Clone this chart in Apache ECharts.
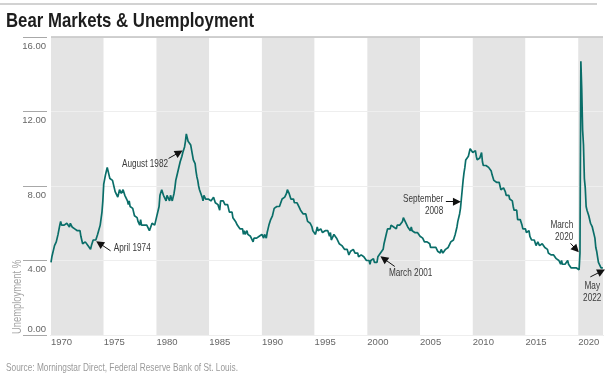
<!DOCTYPE html>
<html>
<head>
<meta charset="utf-8">
<script src="https://cdn.jsdelivr.net/npm/echarts@6/dist/echarts.min.js"></script>
<style>
html, body { margin: 0; padding: 0; background: #fff; }
#chart { width: 610px; height: 376px; }
</style>
</head>
<body>
<div id="chart"></div>
<script>
// monthly unemployment rate, Jan 1970 - May 2022
var firstYear = 1970;
var rate1970s = [
  3.9,4.2,4.4,4.6,4.8,4.9,5.0,5.1,5.4,5.5,5.9,6.1,
  5.9,5.9,6.0,5.9,5.9,5.9,6.0,6.1,6.0,5.8,6.0,6.0,
  5.8,5.7,5.8,5.7,5.7,5.7,5.6,5.6,5.5,5.6,5.3,5.2,
  4.9,5.0,4.9,5.0,4.9,4.9,4.8,4.8,4.8,4.6,4.8,4.9,
  5.1,5.2,5.1,5.1,5.1,5.4,5.5,5.5,5.9,6.0,6.6,7.2,
  8.1,8.1,8.6,8.8,9.0,8.8,8.6,8.4,8.4,8.4,8.3,8.2,
  7.9,7.7,7.6,7.7,7.4,7.6,7.8,7.8,7.6,7.7,7.8,7.8,
  7.5,7.6,7.4,7.2,7.0,7.2,6.9,7.0,6.8,6.8,6.8,6.4,
  6.4,6.3,6.3,6.1,6.0,5.9,6.2,5.9,6.0,5.8,5.9,6.0,
  5.9,5.9,5.8,5.8,5.6,5.7,5.7,6.0,5.9,6.0,5.9,6.0
];
var rate1980s = [
  6.3,6.3,6.3,6.9,7.5,7.6,7.8,7.7,7.5,7.5,7.5,7.2,
  7.5,7.4,7.4,7.2,7.5,7.5,7.2,7.4,7.6,7.9,8.3,8.5,
  8.6,8.9,9.0,9.3,9.4,9.6,9.8,9.8,10.1,10.4,10.8,10.8,
  10.4,10.4,10.3,10.2,10.1,10.1,9.4,9.5,9.2,8.8,8.5,8.3,
  8.0,7.8,7.8,7.7,7.4,7.2,7.5,7.5,7.3,7.4,7.2,7.3,
  7.3,7.2,7.2,7.3,7.2,7.4,7.4,7.1,7.1,7.1,7.0,7.0,
  6.7,7.2,7.2,7.1,7.2,7.2,7.0,6.9,7.0,7.0,6.9,6.6,
  6.6,6.6,6.6,6.3,6.3,6.2,6.1,6.0,5.9,6.0,5.8,5.7,
  5.7,5.7,5.7,5.4,5.6,5.4,5.4,5.6,5.4,5.4,5.3,5.3,
  5.4,5.2,5.0,5.2,5.2,5.3,5.2,5.2,5.3,5.3,5.4,5.4
];
var rate1990s = [
  5.4,5.3,5.2,5.4,5.4,5.2,5.5,5.7,5.9,5.9,6.2,6.3,
  6.4,6.6,6.8,6.7,6.9,6.9,6.8,6.9,6.9,7.0,7.0,7.3,
  7.3,7.4,7.4,7.4,7.6,7.8,7.7,7.6,7.6,7.3,7.4,7.4,
  7.3,7.1,7.0,7.1,7.1,7.0,6.9,6.8,6.7,6.8,6.6,6.5,
  6.6,6.6,6.5,6.4,6.1,6.1,6.1,6.0,5.9,5.8,5.6,5.5,
  5.6,5.4,5.4,5.8,5.6,5.6,5.7,5.7,5.6,5.5,5.6,5.6,
  5.6,5.5,5.5,5.6,5.6,5.3,5.5,5.1,5.2,5.2,5.4,5.4,
  5.3,5.2,5.2,5.1,4.9,5.0,4.9,4.8,4.9,4.7,4.6,4.7,
  4.6,4.6,4.7,4.3,4.4,4.5,4.5,4.5,4.6,4.5,4.4,4.4,
  4.3,4.4,4.2,4.3,4.2,4.3,4.3,4.2,4.2,4.1,4.1,4.0
];
var rate2000s = [
  4.0,4.1,4.0,3.8,4.0,4.0,4.0,4.1,3.9,3.9,3.9,3.9,
  4.2,4.2,4.3,4.4,4.3,4.5,4.6,4.9,5.0,5.3,5.5,5.7,
  5.7,5.7,5.7,5.9,5.8,5.8,5.8,5.7,5.7,5.7,5.9,6.0,
  5.8,5.9,5.9,6.0,6.1,6.3,6.2,6.1,6.1,6.0,5.8,5.7,
  5.7,5.6,5.8,5.6,5.6,5.6,5.5,5.4,5.4,5.5,5.4,5.4,
  5.3,5.4,5.2,5.2,5.1,5.0,5.0,4.9,5.0,5.0,5.0,4.9,
  4.7,4.8,4.7,4.7,4.6,4.6,4.7,4.7,4.5,4.4,4.5,4.4,
  4.6,4.5,4.4,4.5,4.4,4.6,4.7,4.6,4.7,4.7,4.7,5.0,
  5.0,4.9,5.1,5.0,5.4,5.6,5.8,6.1,6.1,6.5,6.8,7.3,
  7.8,8.3,8.7,9.0,9.4,9.5,9.5,9.6,9.8,10.0,9.9,9.9
];
var rate2010s = [
  9.8,9.8,9.9,9.9,9.6,9.4,9.4,9.5,9.5,9.4,9.8,9.3,
  9.1,9.0,9.0,9.1,9.0,9.1,9.0,9.0,9.0,8.8,8.6,8.5,
  8.3,8.3,8.2,8.2,8.2,8.2,8.2,8.0,7.8,7.8,7.7,7.9,
  8.0,7.7,7.5,7.6,7.5,7.5,7.3,7.2,7.2,7.2,6.9,6.7,
  6.6,6.7,6.7,6.2,6.3,6.1,6.2,6.1,5.9,5.7,5.8,5.6,
  5.7,5.5,5.4,5.4,5.6,5.3,5.2,5.1,5.0,5.0,5.1,5.0,
  4.8,4.9,5.0,5.1,4.8,4.9,4.8,4.9,5.0,4.9,4.7,4.7,
  4.7,4.6,4.4,4.4,4.4,4.3,4.3,4.4,4.3,4.2,4.2,4.1,
  4.0,4.1,4.0,4.0,3.8,4.0,3.8,3.8,3.7,3.8,3.8,3.9,
  4.0,3.8,3.8,3.7,3.6,3.6,3.7,3.6,3.5,3.6,3.6,3.6
];
var rate2020s = [
  3.5,3.5,4.4,14.7,13.2,11.0,10.2,8.4,7.9,6.9,6.7,6.7,
  6.4,6.2,6.0,6.1,5.8,5.9,5.4,5.2,4.7,4.5,4.2,3.9,
  4.0,3.8,3.6,3.6,3.6
];

var yearTicks = [1970, 1975, 1980, 1985, 1990, 1995, 2000, 2005, 2010, 2015, 2020];
var rateTicks = [0, 4, 8, 12, 16];

// annotation text + arrow, all in data units
var notes = [
  { text: 'April 1974', at: [1975.95, 4.69], align: 'left', from: [1975.65, 4.52], to: [1974.6, 4.92] },
  { text: 'August 1982', at: [1981.1, 9.17], align: 'right', from: [1981.15, 9.48], to: [1982.15, 9.8] },
  { text: 'March 2001', at: [2002.05, 3.34], align: 'left', from: [2002.6, 3.68], to: [2001.55, 4.1] },
  { text: 'September\n2008', at: [2007.2, 6.95], align: 'right', from: [2007.45, 7.16], to: [2008.5, 7.16] },
  { text: 'March\n2020', at: [2019.53, 5.59], align: 'right', from: [2019.27, 4.92], to: [2019.8, 4.6] },
  { text: 'May\n2022', at: [2021.33, 2.28], align: 'center', from: [2021.15, 3.12], to: [2022.2, 3.42] }
];

var titleText = 'Bear Markets & Unemployment';
var sourceText = 'Source: Morningstar Direct, Federal Reserve Bank of St. Louis.';
var yName = 'Unemployment %';

var rates = rate1970s.concat(rate1980s, rate1990s, rate2000s, rate2010s, rate2020s);
var points = rates.map(function (v, i) {
  return [firstYear + i / 12, v];
});

var sans = '"Liberation Sans", Arial, sans-serif';

// no condensed face installed: measure and squeeze the free texts horizontally
var mctx = document.createElement('canvas').getContext('2d');
function textWidth(txt, font) {
  mctx.font = font;
  return Math.max.apply(null, txt.split('\n').map(function (s) { return mctx.measureText(s).width; }));
}
var titleFont = 'bold 21px ' + sans;
var titleScale = 248 / textWidth(titleText, titleFont);
var noteFont = '10.5px ' + sans;
var narrowScale = 37 / textWidth('April 1974', noteFont);
var sourceFont = '10.5px ' + sans;
var sourceScale = 232 / textWidth(sourceText, sourceFont);

var chart = echarts.init(document.getElementById('chart'), null, { renderer: 'canvas' });

var arrowData = notes.map(function (n) {
  return [{ coord: n.from }, { coord: n.to }];
});
arrowData.push([
  { coord: [firstYear, rateTicks[rateTicks.length - 1]], symbol: 'none' },
  { coord: [2022.35, rateTicks[rateTicks.length - 1]], symbol: 'none', lineStyle: { color: '#c2c2c2', width: 1.5 } }
]);

chart.setOption({
  animation: false,
  grid: { left: 51, right: 7, top: 37, bottom: 41, containLabel: false, outerBoundsMode: 'none' },
  xAxis: {
    type: 'value',
    min: yearTicks[0],
    max: 2022.35,
    interval: 5,
    z: 0,
    axisLine: { show: true, lineStyle: { color: '#d0d0d0', width: 1 } },
    axisTick: { show: false },
    axisLabel: {
      margin: 2,
      align: 'left',
      color: '#666',
      fontFamily: sans,
      fontSize: 9.5,
      formatter: function (v) {
        return yearTicks.indexOf(v) >= 0 ? String(v) : '';
      }
    },
    splitLine: { show: false },
    splitArea: { show: true, areaStyle: { color: ['#e4e4e4', '#ffffff'] } }
  },
  yAxis: {
    type: 'value',
    min: rateTicks[0],
    max: rateTicks[rateTicks.length - 1],
    interval: 4,
    offset: 4,
    z: 1,
    axisLine: { show: false },
    axisTick: { show: true, length: 24, lineStyle: { color: '#a8a8a8', width: 1 } },
    axisLabel: {
      margin: 1,
      color: '#666',
      fontFamily: sans,
      fontSize: 9.5,
      formatter: function (v) {
        return v === 0 ? '{b|' + v.toFixed(2) + '}' : '{a|' + v.toFixed(2) + '}';
      },
      rich: {
        a: { padding: [18, 0, 0, 0], fontFamily: sans, fontSize: 9.5, color: '#666' },
        b: { padding: [0, 0, 12, 0], fontFamily: sans, fontSize: 9.5, color: '#666' }
      }
    },
    splitLine: { show: true, lineStyle: { color: '#eeeeee', width: 1 } }
  },
  series: [{
    type: 'line',
    data: points,
    showSymbol: false,
    symbol: 'none',
    lineStyle: { color: '#0a6e69', width: 1.7 },
    silent: true,
    markLine: {
      silent: true,
      symbol: ['none', 'triangle'],
      symbolSize: 8,
      label: { show: false },
      lineStyle: { color: '#111', width: 1, type: 'solid' },
      emphasis: { disabled: true },
      data: arrowData
    }
  }]
});

function plainText(txt, font, fill, align, vAlign) {
  return {
    text: txt,
    fill: fill,
    font: font,
    align: align,
    textAlign: align,
    verticalAlign: vAlign,
    textVerticalAlign: vAlign,
    lineHeight: 12
  };
}

var gfx = [{
  id: 'topRule',
  type: 'line',
  silent: true,
  shape: { x1: 0, y1: 4, x2: 597, y2: 4 },
  style: { stroke: '#c3c3c3', lineWidth: 1.5 }
}, {
  id: 'title',
  type: 'text',
  silent: true,
  x: 6,
  y: 21,
  scaleX: titleScale,
  style: plainText(titleText, titleFont, '#1d1d1d', 'left', 'middle')
}, {
  id: 'source',
  type: 'text',
  silent: true,
  x: 6,
  y: 368,
  scaleX: sourceScale,
  style: plainText(sourceText, sourceFont, '#9a9a9a', 'left', 'middle')
}, {
  id: 'yName',
  type: 'text',
  silent: true,
  x: 18,
  y: 297,
  rotation: Math.PI / 2,
  scaleX: narrowScale,
  style: plainText(yName, '12px ' + sans, '#a3a3a3', 'center', 'middle')
}];

notes.forEach(function (n, i) {
  var p = chart.convertToPixel({ xAxisIndex: 0, yAxisIndex: 0 }, n.at);
  gfx.push({
    id: 'note' + i,
    type: 'text',
    silent: true,
    x: p[0],
    y: p[1],
    scaleX: narrowScale,
    style: plainText(n.text, noteFont, '#3a3a3a', n.align, 'middle')
  });
});

chart.setOption({ graphic: gfx });
</script>
</body>
</html>
